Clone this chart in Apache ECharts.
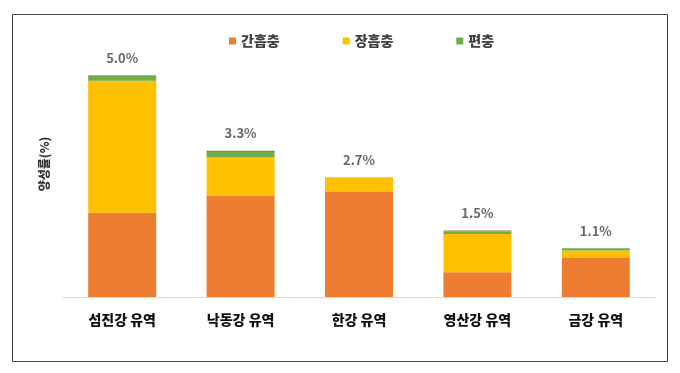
<!DOCTYPE html>
<html><head><meta charset="utf-8">
<script src="https://cdn.jsdelivr.net/npm/echarts@6/dist/echarts.min.js"></script>
<style>html,body{margin:0;padding:0;background:#fff}#c{width:680px;height:373px}</style>
</head><body><div id="c"></div>
<script>
const categories = ['섬진강 유역', '낙동강 유역', '한강 유역', '영산강 유역', '금강 유역'];
const seriesNames = ['간흡충', '장흡충', '편충'];
const clonorchis = [1.90, 2.28, 2.37, 0.56, 0.88];
const intestinalFluke = [2.98, 0.87, 0.33, 0.86, 0.17];
const trichuris = [0.12, 0.12, 0, 0.06, 0.05];
const other = [0, 0.03, 0, 0.02, 0];
const totals = [5.0, 3.3, 2.7, 1.5, 1.1];
const yAxisName = '양성률(%)';

const font = '"Noto Sans CJK KR", "Noto Sans", sans-serif';
const chart = echarts.init(document.getElementById('c'), null, {renderer: 'canvas'});
const barW = 68;
chart.setOption({
  animation: false,
  textStyle: {fontFamily: font},
  graphic: [{
    type: 'rect', shape: {x: 12.5, y: 14.5, width: 655, height: 347},
    style: {fill: 'none', stroke: '#444', lineWidth: 1}, silent: true
  }],
  legend: {
    data: seriesNames, top: 29, left: 224, icon: 'rect', itemWidth: 7, itemHeight: 7, itemGap: 63,
    textStyle: {fontFamily: font, fontSize: 14, fontWeight: 900, color: '#404040'}
  },
  grid: {left: 63, right: 25, top: 31, bottom: 76},
  xAxis: {
    type: 'category', data: categories,
    axisLine: {lineStyle: {color: '#d9d9d9', width: 1}},
    axisTick: {show: false},
    axisLabel: {fontFamily: font, fontSize: 14, fontWeight: 900, color: '#111', margin: 16}
  },
  yAxis: {
    type: 'value', min: 0, max: 6,
    name: yAxisName, nameLocation: 'middle', nameRotate: 90, nameGap: 13,
    nameTextStyle: {fontFamily: font, fontSize: 12, fontWeight: 900, color: '#333'},
    axisLine: {show: false}, axisTick: {show: false}, axisLabel: {show: false}, splitLine: {show: false}
  },
  series: [
    {name: seriesNames[0], type: 'bar', stack: 't', barWidth: barW, data: clonorchis, itemStyle: {color: '#ED7D31'}},
    {name: seriesNames[1], type: 'bar', stack: 't', barWidth: barW, data: intestinalFluke, itemStyle: {color: '#FFC000'}},
    {name: seriesNames[2], type: 'bar', stack: 't', barWidth: barW, data: trichuris, itemStyle: {color: '#70AD47'}},
    {name: '기타', type: 'bar', stack: 't', barWidth: barW, data: other, itemStyle: {color: '#A07A4C'}},
    {
      name: 'total', type: 'scatter', data: totals, symbolSize: 0, silent: true,
      label: {
        show: true, position: 'top', distance: 11,
        formatter: p => p.value.toFixed(1) + '%',
        fontFamily: font, fontSize: 13, fontWeight: 'bold', color: '#404040'
      }
    }
  ]
});
</script></body></html>
